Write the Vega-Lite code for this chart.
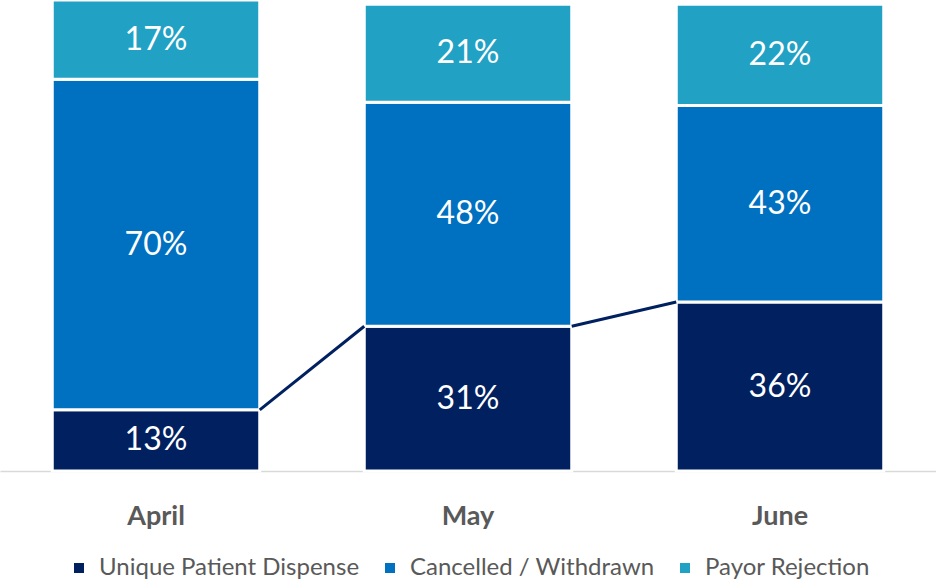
{
  "$schema": "https://vega.github.io/schema/vega-lite/v6.json",
  "width": 936,
  "height": 471,
  "padding": {"left": 0, "top": 0, "right": 0, "bottom": 110},
  "autosize": {"type": "none"},
  "background": "white",
  "config": {
    "view": {"stroke": null},
    "font": "Lato",
    "legend": {"layout": {"bottom": {"anchor": "middle"}}}
  },
  "datasets": {
    "bars": [
      {"month": "April", "series": "Unique Patient Dispense", "ord": 1, "value": 13.1, "label": "13%"},
      {"month": "April", "series": "Cancelled / Withdrawn", "ord": 2, "value": 70.8, "label": "70%"},
      {"month": "April", "series": "Payor Rejection", "ord": 3, "value": 17.0, "label": "17%"},
      {"month": "May", "series": "Unique Patient Dispense", "ord": 1, "value": 31.0, "label": "31%"},
      {"month": "May", "series": "Cancelled / Withdrawn", "ord": 2, "value": 48.0, "label": "48%"},
      {"month": "May", "series": "Payor Rejection", "ord": 3, "value": 21.0, "label": "21%"},
      {"month": "June", "series": "Unique Patient Dispense", "ord": 1, "value": 36.2, "label": "36%"},
      {"month": "June", "series": "Cancelled / Withdrawn", "ord": 2, "value": 42.1, "label": "43%"},
      {"month": "June", "series": "Payor Rejection", "ord": 3, "value": 21.7, "label": "22%"}
    ],
    "links": [
      {"from": "April", "to": "May", "v1": 13.1, "v2": 31.0},
      {"from": "May", "to": "June", "v1": 31.0, "v2": 36.2}
    ]
  },
  "layer": [
    {
      "data": {"name": "bars"},
      "mark": {"type": "bar", "stroke": "white", "strokeWidth": 3},
      "encoding": {
        "x": {
          "field": "month", "type": "nominal", "sort": null,
          "scale": {"domain": ["April", "May", "June"], "paddingInner": 0.335, "paddingOuter": 0.1675},
          "axis": {
            "title": null, "labelAngle": 0, "labelFontSize": 27, "labelFontWeight": "bold",
            "labelColor": "#595959", "labelFont": "Lato", "ticks": false,
            "domainColor": "#d9d9d9", "domainWidth": 1.5, "labelPadding": 32
          }
        },
        "y": {
          "field": "value", "type": "quantitative", "stack": "zero",
          "scale": {"domain": [0, 100.9], "nice": false, "zero": true}, "axis": null
        },
        "color": {
          "field": "series", "type": "nominal",
          "scale": {
            "domain": ["Unique Patient Dispense", "Cancelled / Withdrawn", "Payor Rejection"],
            "range": ["#002060", "#0070C0", "#21A1C4"]
          },
          "legend": {
            "title": null, "orient": "bottom", "direction": "horizontal",
            "labelFontSize": 24, "labelColor": "#595959", "labelFont": "Lato", "labelLimit": 500,
            "symbolType": "square", "symbolSize": 100, "symbolStrokeWidth": 0,
            "columnPadding": 18, "labelOffset": 8, "offset": 27
          }
        },
        "order": {"field": "ord", "type": "quantitative"}
      }
    },
    {
      "data": {"name": "bars"},
      "transform": [
        {"stack": "value", "groupby": ["month"], "sort": [{"field": "ord"}], "as": ["v0", "v1"]},
        {"calculate": "(datum.v0 + datum.v1) / 2", "as": "mid"}
      ],
      "mark": {"type": "text", "color": "white", "fontSize": 32, "font": "Lato"},
      "encoding": {
        "x": {"field": "month", "type": "nominal", "sort": null, "scale": {"domain": ["April", "May", "June"]}},
        "y": {"field": "mid", "type": "quantitative", "scale": {"domain": [0, 100.9], "nice": false}},
        "text": {"field": "label"}
      }
    },
    {
      "data": {"name": "links"},
      "mark": {"type": "rule", "color": "#002060", "strokeWidth": 3},
      "encoding": {
        "x": {"field": "from", "type": "nominal", "sort": null, "scale": {"domain": ["April", "May", "June"]}, "bandPosition": 1},
        "x2": {"field": "to", "bandPosition": 0},
        "y": {"field": "v1", "type": "quantitative", "scale": {"domain": [0, 100.9], "nice": false}},
        "y2": {"field": "v2"}
      }
    }
  ]
}
